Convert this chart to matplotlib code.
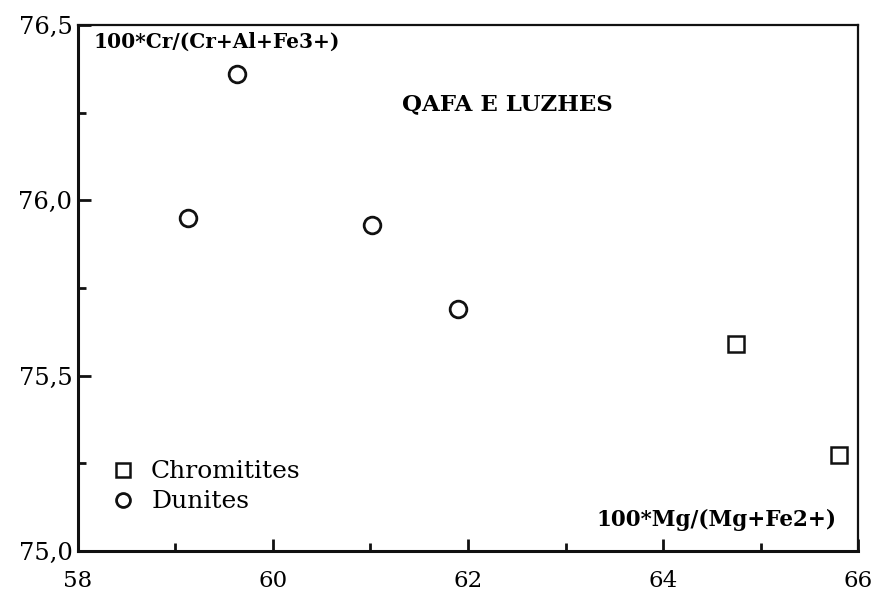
import matplotlib
matplotlib.use("Agg")
import matplotlib.pyplot as plt
from matplotlib.ticker import MultipleLocator

# data
dunite_x = [59.13, 59.63, 61.02, 61.90]
dunite_y = [75.95, 76.36, 75.93, 75.69]
chromitite_x = [64.75, 65.80]
chromitite_y = [75.59, 75.275]

x_ticks = [58, 60, 62, 64, 66]
y_ticks = [75.0, 75.5, 76.0, 76.5]
y_tick_labels = ["75,0", "75,5", "76,0", "76,5"]

plt.rcParams['font.family'] = ['DejaVu Serif']

fig = plt.figure(figsize=(8.72, 6), dpi=100)
ax = fig.add_axes([0.0894, 0.0817, 0.8946, 0.8766])

ax.plot(dunite_x, dunite_y, linestyle='none', marker='o', markersize=12,
        markerfacecolor='none', markeredgecolor='#111111', markeredgewidth=2)
ax.plot(chromitite_x, chromitite_y, linestyle='none', marker='s', markersize=11,
        markerfacecolor='none', markeredgecolor='#111111', markeredgewidth=1.8)

ax.set_xlim(58, 66)
ax.set_ylim(75.0, 76.5)
ax.set_xticks(x_ticks)
ax.set_xticklabels([str(v) for v in x_ticks])
ax.set_yticks(y_ticks)
ax.set_yticklabels(y_tick_labels)
ax.xaxis.set_minor_locator(MultipleLocator(1))
ax.yaxis.set_minor_locator(MultipleLocator(0.25))

ax.tick_params(which='both', direction='in', top=False, right=False,
               width=2, color='#111111')
ax.tick_params(which='major', length=9)
ax.tick_params(which='minor', length=6)
ax.tick_params(axis='x', pad=14, labelsize=16.5)
ax.tick_params(axis='y', pad=4, labelsize=17.5)

for side in ['left', 'bottom']:
    ax.spines[side].set_linewidth(2.2)
for side in ['top', 'right']:
    ax.spines[side].set_linewidth(1.6)
for s in ax.spines.values():
    s.set_color('#111111')

# axis labels inside the frame
ax.text(0.02, 0.988, "100*Cr/(Cr+Al+Fe3+)", transform=ax.transAxes,
        ha='left', va='top', fontsize=14.5, fontweight='bold')
ax.text(0.972, 0.038, "100*Mg/(Mg+Fe2+)", transform=ax.transAxes,
        ha='right', va='bottom', fontsize=15.5, fontweight='bold')
ax.text(0.55, 0.85, "QAFA E LUZHES", transform=ax.transAxes,
        ha='center', va='center', fontsize=16.5, fontweight='bold')

# legend drawn by hand
ax.plot([58.46], [75.23], linestyle='none', marker='s', markersize=10,
        markerfacecolor='none', markeredgecolor='#111111', markeredgewidth=1.8)
ax.plot([58.46], [75.145], linestyle='none', marker='o', markersize=10,
        markerfacecolor='none', markeredgecolor='#111111', markeredgewidth=2)
ax.text(58.75, 75.228, "Chromitites", ha='left', va='center', fontsize=18)
ax.text(58.75, 75.14, "Dunites", ha='left', va='center', fontsize=18)

fig.savefig("out.png", dpi=100)
